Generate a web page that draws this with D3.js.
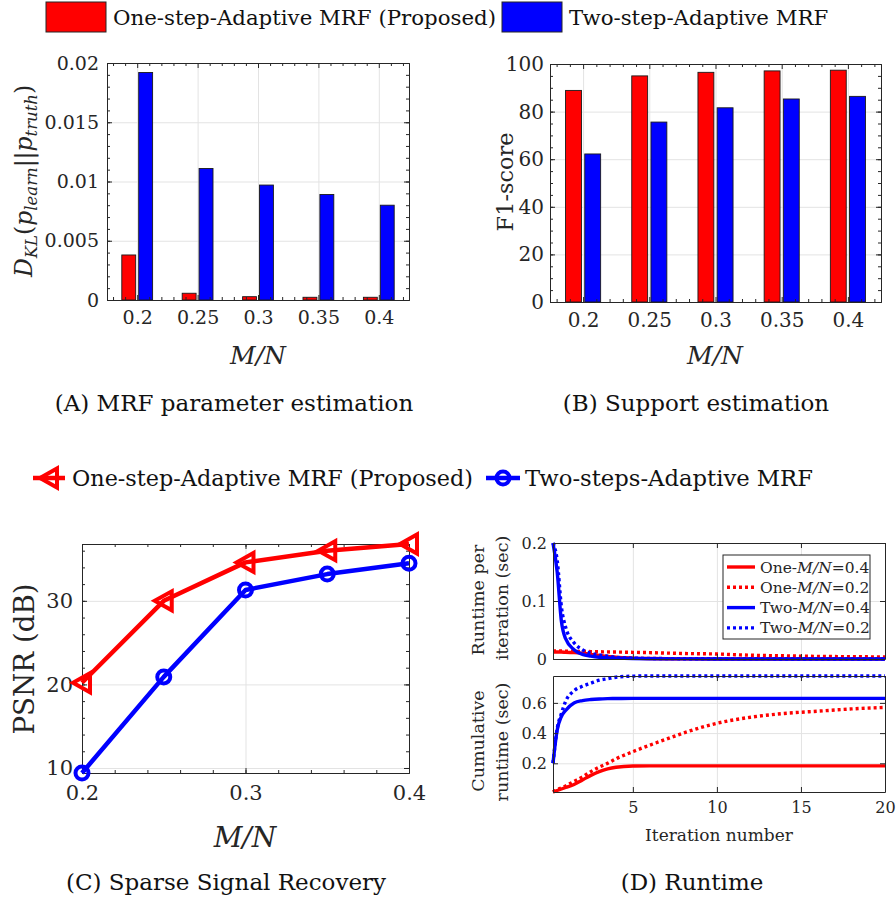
<!DOCTYPE html>
<html>
<head>
<meta charset="utf-8">
<script src="https://cdn.jsdelivr.net/npm/d3@7"></script>
<style>body { margin: 0; background: #fff; }</style>
</head>
<body>
<svg id="fig"></svg>
<script>
// data
const ratios = [0.2, 0.25, 0.3, 0.35, 0.4];
const ratioLabels = ['0.2', '0.25', '0.3', '0.35', '0.4'];
const klOne = [0.0038, 0.00057, 0.00028, 0.00023, 0.00023];
const klTwo = [0.0192, 0.0111, 0.0097, 0.0089, 0.0080];
const f1One = [88.9, 95.0, 96.5, 97.1, 97.4];
const f1Two = [62.2, 75.6, 81.6, 85.3, 86.4];
const psnrOne = [20.2, 30.0, 34.6, 36.0, 36.8];
const psnrTwo = [9.4, 20.9, 31.3, 33.2, 34.5];

const iters = [0.25, 0.5, 0.75, 1, 1.5, 2, 2.5, 3, 3.5, 4, 5, 6, 7, 8, 10, 12, 14, 16, 18, 20];
const perOne04 = [0.012, 0.012, 0.012, 0.0115, 0.011, 0.01, 0.008, 0.006, 0.0045, 0.003, 0.0015, 0.0008, 0.0004, 0.0002, 0.0001, 0, 0, 0, 0, 0];
const perOne02 = [0.014, 0.014, 0.0138, 0.0136, 0.0133, 0.013, 0.0128, 0.0125, 0.0122, 0.012, 0.0115, 0.011, 0.0102, 0.0095, 0.0086, 0.0065, 0.0055, 0.0045, 0.004, 0.0035];
const perTwo04 = [0.2, 0.15, 0.065, 0.035, 0.016, 0.008, 0.005, 0.003, 0.002, 0.0015, 0.0008, 0.0005, 0.0003, 0.0002, 0.0001, 0, 0, 0, 0, 0];
const perTwo02 = [0.2, 0.17, 0.09, 0.055, 0.028, 0.016, 0.01, 0.007, 0.005, 0.003, 0.0015, 0.001, 0.0007, 0.0005, 0.0003, 0.0002, 0.0001, 0, 0, 0];
const cumOne04 = [0.01, 0.02, 0.03, 0.04, 0.06, 0.09, 0.12, 0.145, 0.163, 0.174, 0.182, 0.183, 0.183, 0.183, 0.183, 0.183, 0.183, 0.183, 0.183, 0.183];
const cumOne02 = [0.01, 0.025, 0.037, 0.05, 0.08, 0.11, 0.145, 0.175, 0.2, 0.23, 0.277, 0.32, 0.36, 0.40, 0.465, 0.505, 0.53, 0.545, 0.56, 0.57];
const cumTwo04 = [0.2, 0.42, 0.51, 0.55, 0.60, 0.615, 0.622, 0.626, 0.628, 0.629, 0.63, 0.63, 0.63, 0.63, 0.63, 0.63, 0.63, 0.63, 0.63, 0.63];
const cumTwo02 = [0.2, 0.43, 0.53, 0.61, 0.68, 0.71, 0.73, 0.75, 0.76, 0.77, 0.777, 0.778, 0.778, 0.778, 0.778, 0.778, 0.778, 0.778, 0.778, 0.778];

const ink = '#262626', gridC = '#e3e3e3', red = '#ff0000', blue = '#0000ff';
const serif = '"DejaVu Serif", serif';

const svg = d3.select('#fig').attr('width', 896).attr('height', 901)
    .attr('font-family', serif);

// light grid under the data
function grid(x, y, xt, yt) {
    const [xl, xr] = x.range(), [yb, ytop] = y.range();
    const g = svg.append('g');
    g.append('g').attr('transform', `translate(0,${yb})`)
        .call(d3.axisBottom(x).tickValues(xt).tickSize(-(yb - ytop)).tickFormat(''));
    g.append('g').attr('transform', `translate(${xl},0)`)
        .call(d3.axisLeft(y).tickValues(yt).tickSize(-(xr - xl)).tickFormat(''));
    g.selectAll('.domain').remove();
    g.selectAll('line').attr('stroke', gridC);
}

// box with inward ticks on all four sides
function box(x, y, o) {
    const [xl, xr] = x.range(), [yb, ytop] = y.range();
    const g = svg.append('g');
    const sides = [
        [d3.axisBottom, x, `translate(0,${yb})`, o.xt, o.xminor, o.xfmt, o.xpad],
        [d3.axisTop, x, `translate(0,${ytop})`, o.xt, o.xminor, '', 0],
        [d3.axisLeft, y, `translate(${xl},0)`, o.yt, o.yminor, o.yfmt, o.ypad],
        [d3.axisRight, y, `translate(${xr},0)`, o.yt, o.yminor, '', 0]
    ];
    sides.forEach(([ax, s, tr, major, minor, fmt, pad]) => {
        if (minor) {
            g.append('g').attr('transform', tr)
                .call(ax(s).tickValues(minor).tickSize(-3).tickSizeOuter(0).tickFormat(''));
        }
        g.append('g').attr('transform', tr)
            .call(ax(s).tickValues(major).tickSize(-5).tickSizeOuter(0).tickPadding(pad).tickFormat(fmt));
    });
    g.selectAll('.domain').attr('stroke', ink);
    g.selectAll('line').attr('stroke', ink);
    g.selectAll('text').attr('fill', ink).attr('font-size', o.size).attr('font-family', serif);
}

function label(x, y, txt, size, rot) {
    return svg.append('text')
        .attr('transform', `translate(${x},${y})` + (rot ? ' rotate(-90)' : ''))
        .attr('text-anchor', 'middle')
        .attr('dominant-baseline', 'central')
        .attr('font-size', size)
        .attr('fill', ink)
        .text(txt);
}

function mathMN(x, y, size) {
    label(x, y, 'M/N', size).attr('font-style', 'italic');
}

function caption(x, y, txt) {
    svg.append('text').attr('x', x).attr('y', y)
        .attr('text-anchor', 'middle').attr('dominant-baseline', 'central')
        .attr('font-size', 23).attr('fill', '#111')
        .text(txt);
}

// ---------- top legend ----------
[[46, red, 'One-step-Adaptive MRF (Proposed)'], [502, blue, 'Two-step-Adaptive MRF']].forEach(([lx, c, t]) => {
    svg.append('rect').attr('x', lx).attr('y', 2).attr('width', 60).attr('height', 30)
        .attr('fill', c).attr('stroke', ink).attr('stroke-width', 1);
    svg.append('text').attr('x', lx + 67).attr('y', 25)
        .attr('font-size', 21.3).attr('fill', '#111').text(t);
});

// ---------- (A) KL divergence bars ----------
const idx = ratios.map((d, i) => i + 1);
const minorIdx = d3.range(0.6, 5.5, 0.2).filter(v => Math.abs(v - Math.round(v)) > 0.01);

const xA = d3.scaleLinear().domain([0.5, 5.5]).range([107, 409]);
const yA = d3.scaleLinear().domain([0, 0.02]).range([300, 63]);
grid(xA, yA, idx, [0, 0.005, 0.01, 0.015, 0.02]);

function bars(x, y, vals, off, w, color) {
    svg.append('g').selectAll('rect').data(vals).enter().append('rect')
        .attr('x', (d, i) => x(i + 1 + off))
        .attr('width', x(1 + w) - x(1))
        .attr('y', d => y(d))
        .attr('height', d => y(0) - y(d))
        .attr('fill', color)
        .attr('stroke', '#1a1a1a')
        .attr('stroke-width', 0.9);
}
bars(xA, yA, klOne, -0.255, 0.23, red);
bars(xA, yA, klTwo, 0.025, 0.23, blue);

box(xA, yA, {
    xt: idx, xminor: minorIdx, xfmt: d => ratioLabels[d - 1], xpad: 11,
    yt: [0, 0.005, 0.01, 0.015, 0.02], yminor: d3.range(0, 0.0201, 0.001),
    yfmt: d => d === 0 ? '0' : String(+d.toFixed(3)), ypad: 8, size: 19
});
mathMN(258, 355, 25);

// D_KL(p_learn || p_truth)
const kl = svg.append('text')
    .attr('transform', 'translate(32,181) rotate(-90)')
    .attr('text-anchor', 'middle')
    .attr('font-size', 23.5).attr('fill', ink);
kl.append('tspan').attr('font-style', 'italic').text('D');
kl.append('tspan').attr('font-style', 'italic').attr('font-size', 16.5).attr('dy', 5).text('KL');
kl.append('tspan').attr('dy', -5).text('(');
kl.append('tspan').attr('font-style', 'italic').text('p');
kl.append('tspan').attr('font-style', 'italic').attr('font-size', 16.5).attr('dy', 5).text('learn');
kl.append('tspan').attr('dy', -5).text('||');
kl.append('tspan').attr('font-style', 'italic').text('p');
kl.append('tspan').attr('font-style', 'italic').attr('font-size', 16.5).attr('dy', 5).text('truth');
kl.append('tspan').attr('dy', -5).text(')');

caption(234, 403, '(A) MRF parameter estimation');

// ---------- (B) F1 bars ----------
const xB = d3.scaleLinear().domain([0.5, 5.5]).range([550, 881]);
const yB = d3.scaleLinear().domain([0, 100]).range([302, 64]);
grid(xB, yB, idx, [0, 20, 40, 60, 80, 100]);
bars(xB, yB, f1One, -0.265, 0.24, red);
bars(xB, yB, f1Two, 0.025, 0.24, blue);
box(xB, yB, {
    xt: idx, xminor: minorIdx, xfmt: d => ratioLabels[d - 1], xpad: 11,
    yt: [0, 20, 40, 60, 80, 100], yminor: d3.range(0, 101, 5),
    yfmt: d => String(d), ypad: 6, size: 20
});
mathMN(715, 355, 25);
label(505, 182, 'F1-score', 22.4, true);
caption(696, 403, '(B) Support estimation');

// ---------- (C) PSNR lines ----------
const cLeg = 478;
const xC = d3.scaleLinear().domain([0.2, 0.4]).range([82, 409]);
const yC = d3.scaleLinear().domain(d3.extent(psnrOne.concat(psnrTwo))).range([773, 544]);
grid(xC, yC, [0.2, 0.3, 0.4], [10, 20, 30]);
box(xC, yC, {
    xt: [0.2, 0.3, 0.4], xminor: d3.range(0.2, 0.401, 0.02), xfmt: d => String(d), xpad: 12,
    yt: [10, 20, 30], yminor: d3.range(10, 37, 2), yfmt: d => String(d), ypad: 9, size: 21
});
const tri = 'M-9,0L8,-9.5L8,9.5Z';
const lineC = d3.line().x((d, i) => xC(ratios[i])).y(d => yC(d));
svg.append('path').datum(psnrOne).attr('d', lineC)
    .attr('fill', 'none').attr('stroke', red).attr('stroke-width', 4.5).attr('stroke-linejoin', 'round');
svg.append('g').selectAll('path').data(psnrOne).enter().append('path')
    .attr('d', tri)
    .attr('transform', (d, i) => `translate(${xC(ratios[i])},${yC(d)})`)
    .attr('fill', 'none').attr('stroke', red).attr('stroke-width', 4);
svg.append('path').datum(psnrTwo).attr('d', lineC)
    .attr('fill', 'none').attr('stroke', blue).attr('stroke-width', 4.5).attr('stroke-linejoin', 'round');
svg.append('g').selectAll('circle').data(psnrTwo).enter().append('circle')
    .attr('cx', (d, i) => xC(ratios[i])).attr('cy', d => yC(d)).attr('r', 6.5)
    .attr('fill', 'none').attr('stroke', blue).attr('stroke-width', 4);
mathMN(245, 837, 28);
label(24, 659, 'PSNR (dB)', 27.7, true);

// legend for (C)
svg.append('line').attr('x1', 33).attr('x2', 65).attr('y1', cLeg).attr('y2', cLeg)
    .attr('stroke', red).attr('stroke-width', 4.5);
svg.append('path').attr('d', tri).attr('transform', `translate(49,${cLeg})`)
    .attr('fill', 'none').attr('stroke', red).attr('stroke-width', 4);
svg.append('text').attr('x', 72).attr('y', cLeg + 8)
    .attr('font-size', 22.3).attr('fill', '#111').text('One-step-Adaptive MRF (Proposed)');
svg.append('line').attr('x1', 486).attr('x2', 520).attr('y1', cLeg).attr('y2', cLeg)
    .attr('stroke', blue).attr('stroke-width', 4.5);
svg.append('circle').attr('cx', 503).attr('cy', cLeg).attr('r', 6.5)
    .attr('fill', 'none').attr('stroke', blue).attr('stroke-width', 4);
svg.append('text').attr('x', 525).attr('y', cLeg + 8)
    .attr('font-size', 22.7).attr('fill', '#111').text('Two-steps-Adaptive MRF');
caption(226, 882, '(C) Sparse Signal Recovery');

// ---------- (D) runtime ----------
const series = [
    { name: 'One-', r: '=0.4', per: perOne04, cum: cumOne04, color: red, dash: null },
    { name: 'One-', r: '=0.2', per: perOne02, cum: cumOne02, color: red, dash: '3,3' },
    { name: 'Two-', r: '=0.4', per: perTwo04, cum: cumTwo04, color: blue, dash: null },
    { name: 'Two-', r: '=0.2', per: perTwo02, cum: cumTwo02, color: blue, dash: '3,3' }
];
const xD = d3.scaleLinear().domain([0.25, 20]).range([553, 885]);
const yD1 = d3.scaleLinear().domain([0, 0.2]).range([659, 543]);
const allCum = [].concat(cumOne04, cumOne02, cumTwo04, cumTwo02);
const yD2 = d3.scaleLinear().domain(d3.extent(allCum)).range([792, 676]);

function runLines(y, key) {
    const ln = d3.line().x((d, i) => xD(iters[i])).y(d => y(d)).curve(d3.curveMonotoneX);
    series.forEach(s => {
        svg.append('path').datum(s[key]).attr('d', ln)
            .attr('fill', 'none').attr('stroke', s.color).attr('stroke-width', 3.4)
            .attr('stroke-dasharray', s.dash);
    });
}

grid(xD, yD1, [5, 10, 15, 20], [0, 0.1, 0.2]);
runLines(yD1, 'per');
box(xD, yD1, {
    xt: [5, 10, 15, 20], xfmt: '', xpad: 0,
    yt: [0, 0.1, 0.2], yfmt: d => String(d), ypad: 6, size: 16
});

grid(xD, yD2, [5, 10, 15, 20], [0.2, 0.4, 0.6]);
runLines(yD2, 'cum');
box(xD, yD2, {
    xt: [5, 10, 15, 20], xfmt: d => String(d), xpad: 10,
    yt: [0.2, 0.4, 0.6], yfmt: d => String(d), ypad: 6, size: 16
});

label(478, 600, 'Runtime per', 17.5, true);
label(502, 598, 'iteration (sec)', 17.5, true);
label(478, 741, 'Cumulative', 17.5, true);
label(502, 742, 'runtime (sec)', 17.5, true);
label(719, 835, 'Iteration number', 17);

// legend for (D)
const lg = svg.append('g');
lg.append('rect').attr('x', 723).attr('y', 555).attr('width', 147).attr('height', 84)
    .attr('fill', '#fff').attr('stroke', ink).attr('stroke-width', 1);
series.forEach((s, i) => {
    const ly = 567 + i * 20.3;
    lg.append('line').attr('x1', 727).attr('x2', 755).attr('y1', ly).attr('y2', ly)
        .attr('stroke', s.color).attr('stroke-width', 3.4).attr('stroke-dasharray', s.dash);
    const t = lg.append('text').attr('x', 760).attr('y', ly + 5.5)
        .attr('font-size', 15.5).attr('fill', ink);
    t.append('tspan').text(s.name);
    t.append('tspan').attr('font-style', 'italic').text('M/N');
    t.append('tspan').text(s.r);
});
caption(692, 882, '(D) Runtime');
</script>
</body>
</html>
